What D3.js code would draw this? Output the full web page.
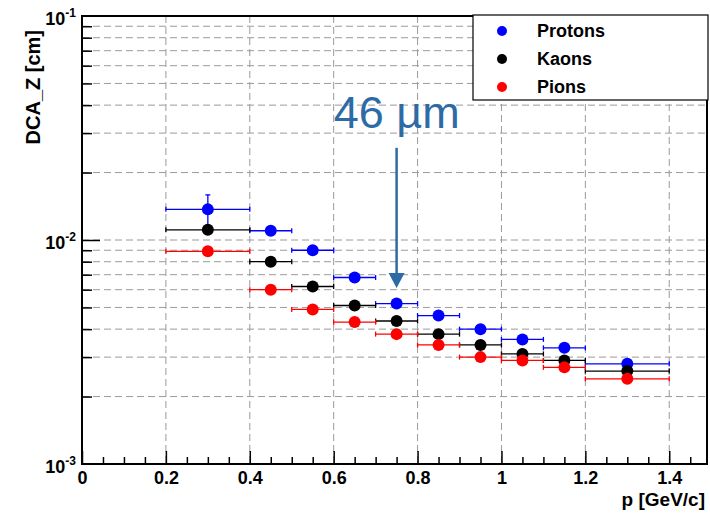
<!DOCTYPE html>
<html>
<head>
<meta charset="utf-8">
<script src="https://cdn.jsdelivr.net/npm/d3@7"></script>
<style>
  body { margin: 0; background: #fff; }
  svg { display: block; font-family: "Liberation Sans", Arial, sans-serif; }
</style>
</head>
<body>
<svg id="chart"></svg>
<script>
// momentum bins (centre and half width, GeV/c)
const pCentres = [0.3, 0.45, 0.55, 0.65, 0.75, 0.85, 0.95, 1.05, 1.15, 1.3];
const pHalf = [0.1, 0.05, 0.05, 0.05, 0.05, 0.05, 0.05, 0.05, 0.05, 0.1];

// DCA_Z resolution in cm
const protons = [0.0137, 0.0110, 0.0090, 0.0068, 0.0052, 0.0046, 0.0040, 0.0036, 0.0033, 0.0028];
const kaons = [0.0111, 0.0080, 0.0062, 0.0051, 0.00435, 0.0038, 0.0034, 0.0031, 0.0029, 0.0026];
const pions = [0.0089, 0.0060, 0.0049, 0.0043, 0.0038, 0.0034, 0.0030, 0.0029, 0.0027, 0.0024];
const protonErr = [0.0022, 0.0002, 0.0002, 0.0001, 0.0001, 0.0001, 0.0001, 0.0001, 0.0001, 0.0001];
const kaonErr = [0.0002, 0.0001, 0.0001, 0.0001, 0.0001, 0.0001, 0.0001, 0.0001, 0.0001, 0.0001];
const pionErr = [0.0002, 0.0001, 0.0001, 0.0001, 0.0001, 0.0001, 0.0001, 0.0001, 0.0001, 0.0001];

const seriesNames = ['Protons', 'Kaons', 'Pions'];
const seriesColors = ['#0000ff', '#000000', '#ff0000'];

const xTicks = [0, 0.2, 0.4, 0.6, 0.8, 1, 1.2, 1.4];
const yDecades = [1e-3, 1e-2, 1e-1];
const yExponents = ['-3', '-2', '-1'];

const width = 710, height = 514;
const plotLeft = 82, plotRight = 707, plotTop = 16, plotBottom = 464;

const svg = d3.select('#chart')
  .attr('width', width)
  .attr('height', height);

const x = d3.scaleLinear().domain([0, 1.49]).range([plotLeft, plotRight]);
const y = d3.scaleLog().domain([1e-3, 1e-1]).range([plotBottom, plotTop]);

// minor values for the log axis: 2..9 in each decade
const yMinor = [];
yDecades.slice(0, 2).forEach(d => {
  for (let k = 2; k <= 9; k++) yMinor.push(d * k);
});
const xMinor = d3.range(0, 1.49, 0.05).filter(v => Math.abs(v / 0.2 - Math.round(v / 0.2)) > 1e-6);

// grid
const grid = svg.append('g')
  .attr('stroke', '#9a9a9a')
  .attr('stroke-width', 1)
  .attr('stroke-dasharray', '7,4');

grid.selectAll('.gx')
  .data(xTicks.filter(v => v > 0))
  .enter()
  .append('line')
  .attr('x1', d => x(d)).attr('x2', d => x(d))
  .attr('y1', plotTop).attr('y2', plotBottom);

grid.selectAll('.gy')
  .data(yMinor.concat([1e-2]))
  .enter()
  .append('line')
  .attr('x1', plotLeft).attr('x2', plotRight)
  .attr('y1', d => y(d)).attr('y2', d => y(d));

// axes
const xAxis = svg.append('g')
  .attr('transform', `translate(0,${plotBottom})`)
  .call(d3.axisBottom(x).tickValues(xTicks).tickSize(-13).tickPadding(7)
    .tickFormat(d => d3.format('~g')(d)));
svg.append('g')
  .attr('transform', `translate(0,${plotBottom})`)
  .call(d3.axisBottom(x).tickValues(xMinor).tickSize(-7).tickFormat(''));

svg.append('g')
  .attr('transform', `translate(${plotLeft},0)`)
  .call(d3.axisLeft(y).tickValues(yMinor).tickSize(-10).tickFormat(''));
svg.append('g')
  .attr('transform', `translate(${plotLeft},0)`)
  .call(d3.axisLeft(y).tickValues([1e-2]).tickSize(-18).tickFormat(''));

svg.selectAll('.domain').remove();
svg.selectAll('.tick line').attr('stroke', '#000').attr('stroke-width', 1.5);
xAxis.selectAll('text')
  .attr('font-size', 18)
  .attr('font-weight', 'bold')
  .attr('fill', '#000')
  .attr('font-family', '"Liberation Sans", Arial, sans-serif');

// y tick labels 10^n
const yLab = svg.selectAll('.ylab')
  .data(yDecades)
  .enter()
  .append('text')
  .attr('x', 76)
  .attr('y', d => y(d) + 9)
  .attr('text-anchor', 'end')
  .attr('font-size', 18)
  .attr('font-weight', 'bold');
yLab.append('tspan').text('10');
yLab.append('tspan')
  .attr('font-size', 12)
  .attr('dy', -8)
  .text((d, i) => yExponents[i]);

// frame
svg.append('rect')
  .attr('x', plotLeft).attr('y', plotTop)
  .attr('width', plotRight - plotLeft).attr('height', plotBottom - plotTop)
  .attr('fill', 'none')
  .attr('stroke', '#000')
  .attr('stroke-width', 2);

// axis titles
svg.append('text')
  .attr('x', 705).attr('y', 506)
  .attr('text-anchor', 'end')
  .attr('font-size', 19)
  .attr('font-weight', 'bold')
  .text('p [GeV/c]');

svg.append('text')
  .attr('transform', 'translate(40,30) rotate(-90)')
  .attr('text-anchor', 'end')
  .attr('font-size', 20)
  .attr('font-weight', 'bold')
  .text('DCA_Z [cm]');

// data series
const series = [protons, kaons, pions];
const errors = [protonErr, kaonErr, pionErr];

series.forEach((vals, s) => {
  const pts = vals.map((v, i) => ({ p: pCentres[i], h: pHalf[i], v: v, e: errors[s][i] }));
  const g = svg.append('g')
    .attr('stroke', seriesColors[s])
    .attr('fill', seriesColors[s]);

  g.selectAll('.hbar')
    .data(pts)
    .enter()
    .append('line')
    .attr('x1', d => x(d.p - d.h)).attr('x2', d => x(d.p + d.h))
    .attr('y1', d => y(d.v)).attr('y2', d => y(d.v))
    .attr('stroke-width', 1.3);

  g.selectAll('.capl')
    .data(pts.flatMap(d => [{ px: d.p - d.h, v: d.v }, { px: d.p + d.h, v: d.v }]))
    .enter()
    .append('line')
    .attr('x1', d => x(d.px)).attr('x2', d => x(d.px))
    .attr('y1', d => y(d.v) - 2.5).attr('y2', d => y(d.v) + 2.5)
    .attr('stroke-width', 1.3);

  g.selectAll('.vbar')
    .data(pts)
    .enter()
    .append('line')
    .attr('x1', d => x(d.p)).attr('x2', d => x(d.p))
    .attr('y1', d => y(d.v + d.e)).attr('y2', d => y(d.v - d.e))
    .attr('stroke-width', 1.3);

  g.selectAll('.capv')
    .data(pts)
    .enter()
    .append('line')
    .attr('x1', d => x(d.p) - 2.5).attr('x2', d => x(d.p) + 2.5)
    .attr('y1', d => y(d.v + d.e)).attr('y2', d => y(d.v + d.e))
    .attr('stroke-width', 1.3);

  g.selectAll('circle')
    .data(pts)
    .enter()
    .append('circle')
    .attr('cx', d => x(d.p))
    .attr('cy', d => y(d.v))
    .attr('r', 6)
    .attr('stroke', 'none');
});

// legend
const legend = svg.append('g');
legend.append('rect')
  .attr('x', 473).attr('y', 15)
  .attr('width', 235).attr('height', 85)
  .attr('fill', '#fff')
  .attr('stroke', '#000')
  .attr('stroke-width', 1.2);

const items = legend.selectAll('.item')
  .data(seriesNames)
  .enter()
  .append('g')
  .attr('transform', (d, i) => `translate(0,${31 + i * 28})`);
items.append('circle')
  .attr('cx', 502).attr('cy', 0).attr('r', 5)
  .attr('fill', (d, i) => seriesColors[i]);
items.append('text')
  .attr('x', 537).attr('y', 0)
  .attr('dy', '0.36em')
  .attr('font-size', 18)
  .attr('font-weight', 'bold')
  .text(d => d);

// annotation
const noteColor = '#2d6ba6';
svg.append('text')
  .attr('x', x(0.6)).attr('y', y(0.0316))
  .attr('font-size', 45)
  .attr('fill', noteColor)
  .text('46 µm');

svg.append('line')
  .attr('x1', x(0.75)).attr('x2', x(0.75))
  .attr('y1', y(0.0258)).attr('y2', y(0.0061) - 12)
  .attr('stroke', noteColor)
  .attr('stroke-width', 2.5);

svg.append('path')
  .attr('d', `M${x(0.75) - 8},${y(0.0061) - 15} L${x(0.75) + 8},${y(0.0061) - 15} L${x(0.75)},${y(0.0061)} Z`)
  .attr('fill', noteColor);
</script>
</body>
</html>
